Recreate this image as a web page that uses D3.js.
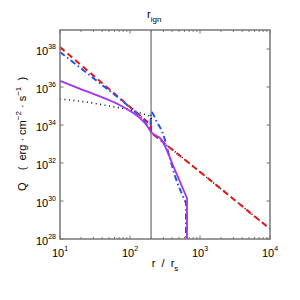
<!DOCTYPE html>
<html>
<head>
<meta charset="utf-8">
<script src="https://cdn.jsdelivr.net/npm/d3@7"></script>
<style>
  body { margin: 0; background: #fff; }
  text { font-family: "Liberation Sans", Arial, sans-serif; fill: #000; }
</style>
</head>
<body>
<svg id="chart" width="300" height="300"></svg>
<script>
// values: r in units of r_s, Q in erg cm^-2 s^-1
var rIgn = 200;

var redR = [10, 100, 200, 200, 1000, 10000];
var redQ = [1.26e38, 8.9e34, 1.0e34, 4.0e33, 3.4e31, 3.4e28];

var blackR = [10, 30, 60, 100, 150, 200, 200, 1000, 10000];
var blackQ = [2.34e35, 1.41e35, 8.9e34, 6.3e34, 4.0e34, 2.8e34, 4.0e33, 3.4e31, 3.4e28];

var blueR = [10, 37, 85, 110, 153, 195, 200, 243, 296, 361, 439, 553, 631, 631];
var blueQ = [6.9e37, 1.6e36, 1.4e35, 6.2e34, 2.1e34, 6.9e33, 4.8e34, 1.4e34, 3.4e33, 2.6e32, 2.1e31, 2.3e30, 7.8e29, 1e28];

var purpleR = [10, 19, 37, 72, 100, 139, 169, 200, 285, 426, 652, 652];
var purpleQ = [2.1e36, 8.3e35, 3.2e35, 1.1e35, 5.5e34, 2.3e34, 1.1e34, 4.3e33, 1.6e33, 5.5e31, 1.4e30, 1e28];

var xTicks = [10, 100, 1000, 10000];
var xTickExp = ["1", "2", "3", "4"];
var yTicks = [1e28, 1e30, 1e32, 1e34, 1e36, 1e38];
var yTickExp = ["28", "30", "32", "34", "36", "38"];

var margin = {left: 60, top: 30, right: 30, bottom: 61};
var W = 300 - margin.left - margin.right,
    H = 300 - margin.top - margin.bottom;

var svg = d3.select('#chart');
var g = svg.append('g').attr('transform', 'translate(' + margin.left + ',' + margin.top + ')');

var x = d3.scaleLog().domain([10, 1e4]).range([0, W]);
var y = d3.scaleLog().domain([1e28, 1e39]).range([H, 0]);

// minor x ticks (2..9 of each decade)
var xMinor = [];
[10, 100, 1000].forEach(function (d) {
  for (var k = 2; k <= 9; k++) xMinor.push(d * k);
});

function tickLines(sel, vals, len, side) {
  vals.forEach(function (v) {
    if (side == 'x') {
      sel.append('line').attr('x1', x(v)).attr('x2', x(v)).attr('y1', H).attr('y2', H - len);
      sel.append('line').attr('x1', x(v)).attr('x2', x(v)).attr('y1', 0).attr('y2', len);
    } else {
      sel.append('line').attr('y1', y(v)).attr('y2', y(v)).attr('x1', 0).attr('x2', len);
      sel.append('line').attr('y1', y(v)).attr('y2', y(v)).attr('x1', W).attr('x2', W - len);
    }
  });
}

var ticks = g.append('g').attr('stroke', '#777').attr('stroke-width', 1);
tickLines(ticks, xTicks, 3.5, 'x');
tickLines(ticks, xMinor, 2, 'x');
tickLines(ticks, yTicks, 3.5, 'y');

// ignition radius
g.append('line')
  .attr('x1', x(rIgn)).attr('x2', x(rIgn))
  .attr('y1', 0).attr('y2', H)
  .attr('stroke', '#777').attr('stroke-width', 1.3);

svg.append('clipPath').attr('id', 'clip')
  .append('rect').attr('width', W).attr('height', H);

// smooth runs, joined by straight steps where r repeats
var smooth = d3.line().x(d => x(d[0])).y(d => y(d[1])).curve(d3.curveMonotoneX);
function pathFor(r, q) {
  var runs = [[]];
  r.forEach(function (d, i) {
    var run = runs[runs.length - 1];
    if (run.length && run[run.length - 1][0] == d) { runs.push([]); run = runs[runs.length - 1]; }
    run.push([d, q[i]]);
  });
  var s = '';
  runs.forEach(function (run, i) {
    var p = run.length > 1 ? smooth(run) : 'M' + x(run[0][0]) + ',' + y(run[0][1]);
    s += i == 0 ? p : 'L' + p.slice(1);
  });
  return s;
}

var curves = g.append('g').attr('clip-path', 'url(#clip)').attr('fill', 'none');

curves.append('path').attr('d', pathFor(blackR, blackQ))
  .attr('stroke', '#000').attr('stroke-width', 1.5).attr('stroke-dasharray', '1,3.5');
curves.append('path').attr('d', pathFor(redR, redQ))
  .attr('stroke', '#ee1111').attr('stroke-width', 2).attr('stroke-dasharray', '6,4');
curves.append('path').attr('d', pathFor(blueR, blueQ))
  .attr('stroke', '#2255ee').attr('stroke-width', 2).attr('stroke-dasharray', '6,3,1.5,3');
curves.append('path').attr('d', pathFor(purpleR, purpleQ))
  .attr('stroke', '#a633ee').attr('stroke-width', 1.8);

// frame
g.append('rect').attr('width', W).attr('height', H)
  .attr('fill', 'none').attr('stroke', '#777').attr('stroke-width', 1.5);

// tick labels
xTicks.forEach(function (v, i) {
  var t = g.append('text').attr('x', x(v)).attr('y', H + 18)
    .attr('text-anchor', 'middle').attr('fill', '#000').style('font-size', '11px');
  t.append('tspan').text('10');
  t.append('tspan').attr('dy', -6).style('font-size', '7px').text(xTickExp[i]);
});
yTicks.forEach(function (v, i) {
  var t = g.append('text').attr('x', -4).attr('y', y(v) + 6)
    .attr('text-anchor', 'end').attr('fill', '#000').style('font-size', '11px');
  t.append('tspan').text('10');
  t.append('tspan').attr('dy', -6).style('font-size', '7px').text(yTickExp[i]);
});

// axis labels
var xl = g.append('text').attr('x', W / 2).attr('y', H + 28).attr('fill', '#000')
  .attr('text-anchor', 'middle').style('font-size', '11px').style('white-space', 'pre');
xl.append('tspan').text('r  /  r');
xl.append('tspan').attr('dy', 4).style('font-size', '8px').text('s');

var yl = svg.append('text').attr('fill', '#000')
  .attr('transform', 'translate(26,134) rotate(-90)')
  .attr('text-anchor', 'middle').style('font-size', '11px').style('white-space', 'pre');
yl.append('tspan').text('Q    (  erg · cm');
yl.append('tspan').attr('dy', -5).style('font-size', '8px').text('−2');
yl.append('tspan').attr('dy', 5).text(' · s');
yl.append('tspan').attr('dy', -5).style('font-size', '8px').text('−1');
yl.append('tspan').attr('dy', 5).text('  )');

var tl = svg.append('text').attr('x', margin.left + x(rIgn) - 4).attr('y', 18)
  .attr('fill', '#000').style('font-size', '11px');
tl.append('tspan').text('r');
tl.append('tspan').attr('dy', 4).style('font-size', '8px').text('ign');
</script>
</body>
</html>
